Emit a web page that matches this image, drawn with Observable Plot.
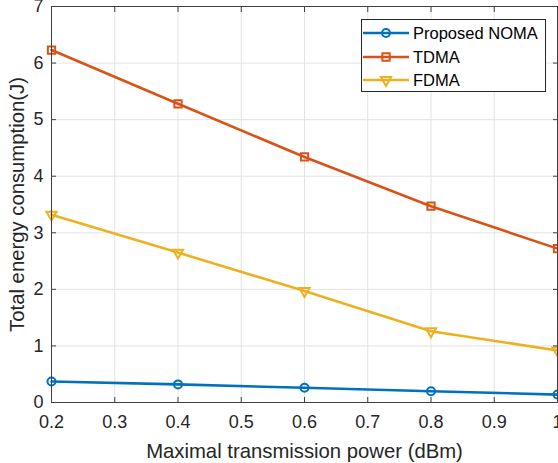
<!DOCTYPE html>
<html><head><meta charset="utf-8">
<script src="https://cdn.jsdelivr.net/npm/d3@7"></script>
<script src="https://cdn.jsdelivr.net/npm/@observablehq/plot@0.6"></script>
<style>
body{margin:0;background:#fff;font-family:"Liberation Sans",Arial,sans-serif}
#wrap{position:relative;width:558px;height:463px;overflow:hidden}
#legend{position:absolute;left:361px;top:19px;width:183px;height:71px;border:1px solid #262626;background:#fff}
</style>
</head><body><div id="wrap"></div>
<script>
const power = [0.2, 0.4, 0.6, 0.8, 1.0];
const noma = [0.37, 0.32, 0.26, 0.20, 0.14];
const tdma = [6.23, 5.28, 4.34, 3.47, 2.72];
const fdma = [3.32, 2.65, 1.97, 1.26, 0.92];
const seriesNames = ["Proposed NOMA", "TDMA", "FDMA"];
const seriesValues = [noma, tdma, fdma];
const colors = ["#0072BD", "#D95319", "#EDB120"];
const symbols = ["circle", "square", "triangle"];
const rotations = [0, 0, 180];
const xTicks = [0.2, 0.3, 0.4, 0.5, 0.6, 0.7, 0.8, 0.9, 1];
const yTicks = [0, 1, 2, 3, 4, 5, 6, 7];
const xLabel = "Maximal transmission power (dBm)";
const yLabel = "Total energy consumption(J)";

const rows = [];
seriesNames.forEach((s, i) => power.forEach((p, j) => rows.push({series: s, x: p, y: seriesValues[i][j], i})));

const axisColor = "#262626";
const gridColor = "#e3e3e3";
const fmt = d => String(d);
const markerR = [4, 4.1, 3.8];

const lineMarks = seriesNames.map((s, i) => Plot.line(rows.filter(r => r.i === i), {x: "x", y: "y", stroke: colors[i], strokeWidth: 2.6}));
const dotMarks = seriesNames.map((s, i) => Plot.dot(rows.filter(r => r.i === i), {x: "x", y: "y", stroke: colors[i], strokeWidth: 2, fill: "none", symbol: symbols[i], r: markerR[i], rotate: rotations[i]}));

const chart = Plot.plot({
  width: 558, height: 463,
  marginLeft: 51, marginRight: 1, marginTop: 6, marginBottom: 61,
  x: {domain: [0.2, 1]},
  y: {domain: [0, 7]},
  style: {fontFamily: "'Liberation Sans', Arial, sans-serif", color: axisColor, background: "#fff", overflow: "visible"},
  marks: [
    Plot.gridX(xTicks, {stroke: gridColor, strokeOpacity: 1}),
    Plot.gridY(yTicks, {stroke: gridColor, strokeOpacity: 1}),
    ...lineMarks,
    ...dotMarks,
    Plot.frame({stroke: "#404040", strokeWidth: 1}),
    Plot.axisX(xTicks, {anchor: "bottom", tickSize: -5, fill: "none", stroke: "#404040", label: null}),
    Plot.axisX(xTicks, {anchor: "top", tickSize: -5, fill: "none", stroke: "#404040", label: null}),
    Plot.axisY(yTicks, {anchor: "left", tickSize: -5, fill: "none", stroke: "#404040", label: null}),
    Plot.axisY(yTicks, {anchor: "right", tickSize: -5, fill: "none", stroke: "#404040", label: null}),
    Plot.axisX(xTicks, {anchor: "bottom", tickSize: 0, tickPadding: 13, fontSize: 18, tickFormat: fmt, label: null, fill: axisColor}),
    Plot.axisY(yTicks, {anchor: "left", tickSize: 0, tickPadding: 8, fontSize: 18, tickFormat: fmt, label: null, fill: axisColor}),
    Plot.axisX([], {anchor: "bottom", tickSize: 0, fontSize: 20.3, label: xLabel, labelAnchor: "center", labelOffset: 55, labelArrow: "none", fill: axisColor}),
    Plot.axisY([], {anchor: "left", tickSize: 0, fontSize: 20.3, label: yLabel, labelAnchor: "center", labelOffset: 42, labelArrow: "none", fill: axisColor})
  ]
});
const wrap = document.getElementById("wrap");
wrap.appendChild(chart);

// legend
const leg = document.createElement("div");
leg.id = "legend";
wrap.appendChild(leg);
const lsvg = d3.select(leg).append("svg").attr("width", 183).attr("height", 71);
const rowY = [13, 37, 60];
const symFns = [d3.symbolCircle, d3.symbolSquare, d3.symbolTriangle];
seriesNames.forEach((s, i) => {
  const g = lsvg.append("g").attr("transform", `translate(0,${rowY[i]})`);
  g.append("line").attr("x1", 1).attr("x2", 47).attr("stroke", colors[i]).attr("stroke-width", 2.6);
  const r = markerR[i];
  g.append("path").attr("d", d3.symbol(symFns[i], Math.PI * r * r)()).attr("transform", `translate(24,0) rotate(${rotations[i]})`)
    .attr("fill", "none").attr("stroke", colors[i]).attr("stroke-width", 2);
  g.append("text").attr("x", 51).attr("y", 0).attr("dy", "0.35em").attr("font-size", 16.5).attr("fill", "#000")
    .attr("font-family", "'Liberation Sans', Arial, sans-serif").text(s);
});
</script>
</body></html>
